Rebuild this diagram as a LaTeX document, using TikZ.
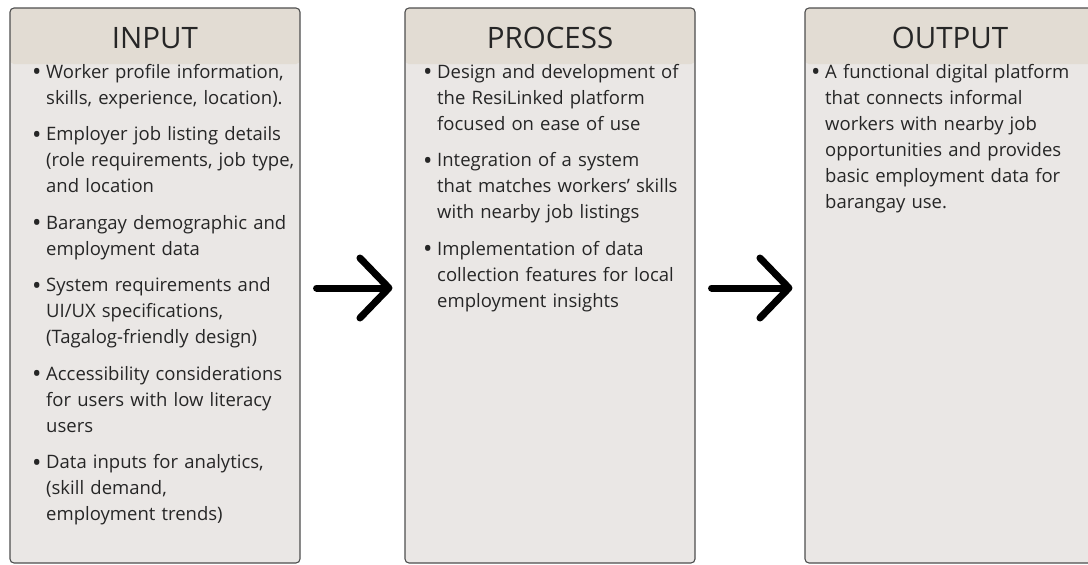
\documentclass[tikz,border=0pt]{standalone}
\usepackage{fontspec}
\setmainfont{Open Sans}
\usepackage{tikz}
\usetikzlibrary{arrows.meta,positioning}
\definecolor{boxbody}{HTML}{EAE7E5}
\definecolor{boxhead}{HTML}{E2DCD3}
\definecolor{boxline}{HTML}{4E4E4E}
\definecolor{ink}{HTML}{262626}
\tikzstyle{colbox}=[rectangle,rounded corners=4pt,draw=boxline,line width=1.1pt,fill=boxbody,
  minimum width=290pt,minimum height=555pt,inner sep=0pt,
  path picture={\fill[boxhead] (path picture bounding box.north west) rectangle
    ([yshift=-56pt]path picture bounding box.north east);}]
\tikzstyle{headtxt}=[inner sep=0pt,text=ink,font=\fontsize{29.5}{32}\selectfont]
\tikzstyle{listtxt}=[anchor=base west,inner sep=0pt,text=ink,text width=275pt,align=left,
  font=\fontsize{18.5}{26}\selectfont]
\tikzstyle{flow}=[line width=7pt,line cap=round,shorten <=16pt,shorten >=12pt,
  -{Straight Barb[length=29pt,width=60pt,round]}]
\newcommand{\bitem}[1]{\hangindent=13pt\hangafter=1\noindent\makebox[13pt][l]{\kern-1pt\raisebox{-2.8pt}{\scalebox{1.35}{\textbullet}}}#1\par\vspace{10.5pt}}

\begin{document}
\begin{tikzpicture}
  [x=1pt,y=-1pt]
\useasboundingbox (0,0) rectangle (1088,565);
\node[colbox] (inp) at (155,285.5) {};
\node[colbox] (proc) at (550,285.5) {};
\node[colbox] (out) at (950,285.5) {};
\node[headtxt] (inph) at (155,38) {INPUT};
\node[headtxt] (proch) at (550,38) {PROCESS};
\node[headtxt] (outh) at (950,38) {OUTPUT};
\node[listtxt] (inplist) at (33,78) {%
\bitem{Worker profile information,\newline skills, experience, location).}%
\bitem{Employer job listing details\newline (role requirements, job type,\newline and location}%
\bitem{Barangay demographic and\newline employment data}%
\bitem{System requirements and\newline UI/UX specifications,\newline (Tagalog-friendly design)}%
\bitem{Accessibility considerations\newline for users with low literacy\newline users}%
\bitem{Data inputs for analytics,\newline (skill demand,\newline employment trends)}};
\node[listtxt] (proclist) at (424,78) {%
\bitem{Design and development of\newline the ResiLinked platform\newline focused on ease of use}%
\bitem{Integration of a system\newline that matches workers’ skills\newline with nearby job listings}%
\bitem{Implementation of data\newline collection features for local\newline employment insights}};
\node[listtxt] (outlist) at (812,78) {%
\bitem{A functional digital platform\newline that connects informal\newline workers with nearby job\newline opportunities and provides\newline basic employment data for\newline barangay use.}};
\path[flow]
([yshift=-2.5pt]inp.east) edge ([yshift=-2.5pt]proc.west)
([yshift=-2.5pt]proc.east) edge ([yshift=-2.5pt]out.west);
\end{tikzpicture}
\end{document}
